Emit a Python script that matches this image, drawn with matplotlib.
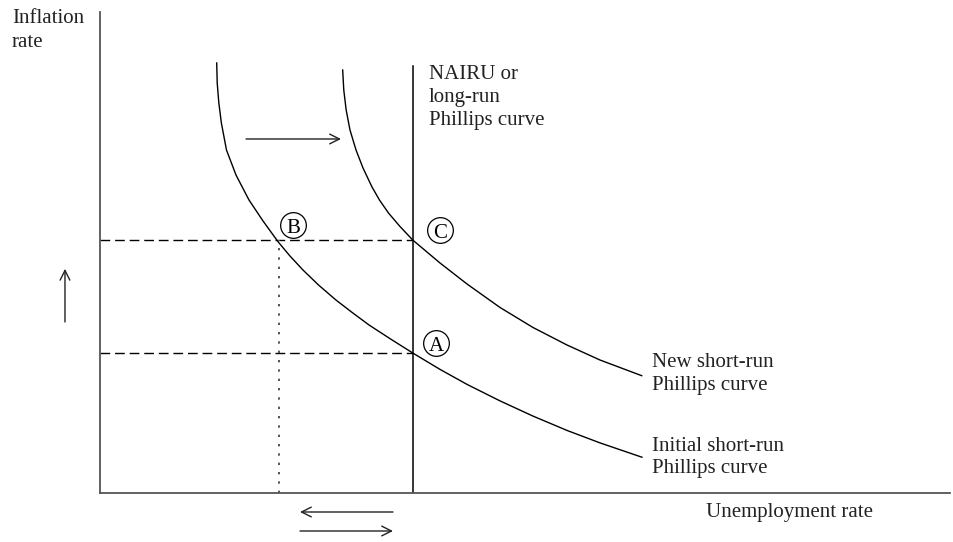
import numpy as np
import matplotlib
matplotlib.use("Agg")
import matplotlib.pyplot as plt

# chart units: unemployment on x (0-10), inflation on y (0-10)
initial_u = [1.373, 1.379, 1.398, 1.428, 1.488, 1.600, 1.753, 1.918, 2.094,
             2.235, 2.388, 2.571, 2.776, 2.959, 3.165, 3.418, 3.679, 4.000,
             4.318, 4.706, 5.094, 5.494, 5.882, 6.376]
initial_pi = [8.940, 8.524, 8.108, 7.692, 7.131, 6.611, 6.091, 5.655, 5.225,
              4.927, 4.636, 4.324, 4.012, 3.763, 3.493, 3.202, 2.911, 2.570,
              2.258, 1.915, 1.599, 1.301, 1.042, 0.744]
new_u = [2.855, 2.868, 2.896, 2.941, 3.012, 3.094, 3.200, 3.288, 3.394,
         3.524, 3.679, 4.000, 4.318, 4.706, 5.094, 5.494, 5.882, 6.373]
new_pi = [8.794, 8.378, 7.963, 7.547, 7.131, 6.757, 6.362, 6.091, 5.821,
          5.551, 5.260, 4.782, 4.345, 3.857, 3.441, 3.077, 2.765, 2.439]

nairu_u = 3.679
nairu_top = 8.87
u_B = 2.11
pi_low = 2.911   # point A
pi_high = 5.25   # points B and C

labels = ["A", "B", "C"]
label_u = [3.953, 2.271, 4.0]
label_pi = [3.119, 5.572, 5.468]

# text blocks: (x, first baseline, line step, lines)
texts = [
    (-1.035, 9.771, 0.499, ["Inflation", "rate"]),
    (3.871, 8.607, 0.478, ["NAIRU or", "long-run", "Phillips curve"]),
    (6.494, 2.620, 0.478, ["New short-run", "Phillips curve"]),
    (6.494, 0.873, 0.457, ["Initial short-run", "Phillips curve"]),
    (7.129, -0.499, 0.0, ["Unemployment rate"]),
]

FS = 15
plt.rcParams['font.family'] = ['Liberation Serif', 'DejaVu Serif']


def arrow(ax, x0, y0, x1, y1):
    ax.annotate('', xy=(x1, y1), xytext=(x0, y0), annotation_clip=False,
                arrowprops=dict(arrowstyle='->,head_length=0.7,head_width=0.35',
                                lw=1.0, color='#222222', shrinkA=0, shrinkB=0))


def main():
    fig = plt.figure(figsize=(9.54, 5.42), dpi=100)
    ax = fig.add_axes([100 / 954, 49 / 542, 850 / 954, 481 / 542])
    ax.set_xlim(0, 10)
    ax.set_ylim(0, 10)
    ax.set_xticks([])
    ax.set_yticks([])
    for s in ['top', 'right']:
        ax.spines[s].set_visible(False)
    for s in ['left', 'bottom']:
        ax.spines[s].set_color('#555555')
        ax.spines[s].set_linewidth(1.3)

    ax.plot(initial_u, initial_pi, color='black', lw=1.0)
    ax.plot(new_u, new_pi, color='black', lw=1.0)
    ax.plot([nairu_u, nairu_u], [0, nairu_top], color='black', lw=1.1)

    for lev in [pi_low, pi_high]:
        ax.plot([0, nairu_u], [lev, lev], color='black', lw=1.0, dashes=(7, 3.5))
    ax.plot([u_B, u_B], [0, pi_high], color='#555555', lw=1.4, dashes=(1.2, 3.6))

    for lab, u, p in zip(labels, label_u, label_pi):
        ax.plot(u, p, 'o', ms=18.5, mfc='white', mec='black', mew=0.9,
                clip_on=False)
        ax.text(u, p - 0.08, lab, ha='center', va='center', fontsize=FS)

    # shift arrow and side arrows
    arrow(ax, 1.718, 7.36, 2.835, 7.36)
    arrow(ax, -0.412, 3.555, -0.412, 4.66)
    arrow(ax, 3.447, -0.395, 2.353, -0.395)
    arrow(ax, 2.353, -0.79, 3.447, -0.79)

    for x, y, step, lines in texts:
        for i, line in enumerate(lines):
            ax.text(x, y - i * step, line, fontsize=FS, va='baseline',
                    ha='left', color='#222222', clip_on=False)

    fig.savefig("out.png", dpi=100)


if __name__ == '__main__':
    main()
